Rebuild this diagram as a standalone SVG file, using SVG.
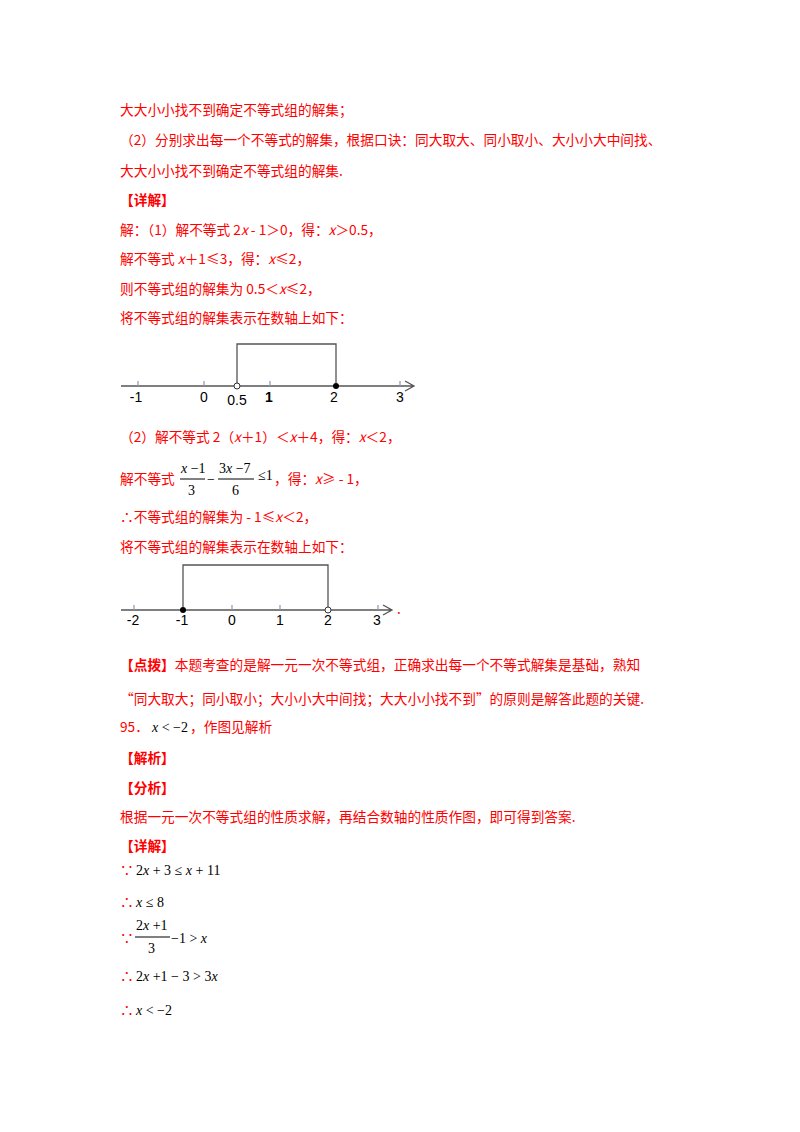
<svg xmlns="http://www.w3.org/2000/svg" width="800" height="1132" viewBox="0 0 800 1132">
<style>
.t{font-family:"Noto Sans CJK SC","Liberation Serif",sans-serif;font-size:13.7px;fill:#ff0000}
.m{font-family:"Liberation Serif",serif;font-size:14px;fill:#000}
.mi{font-family:"Liberation Serif",serif;font-size:14px;fill:#000;font-style:italic}
.l{font-family:"Liberation Sans",sans-serif;font-size:14px;fill:#000;text-anchor:middle}
.ax{stroke:#555;stroke-width:1.3;fill:none}
.tk{stroke:#8899bb;stroke-width:1.2}
</style>
<rect width="800" height="1132" fill="#fff"/>
<text class="t" x="120" y="115">大大小小找不到确定不等式组的解集；</text>
<text class="t" x="120" y="145">（2）分别求出每一个不等式的解集，根据口诀：同大取大、同小取小、大小小大中间找、</text>
<text class="t" x="120" y="176">大大小小找不到确定不等式组的解集.</text>
<text class="t" x="120" y="205" font-weight="bold">【详解】</text>
<text class="t" x="120" y="235">解：（1）解不等式 2<tspan font-style="italic">x</tspan> - 1＞0，得：<tspan font-style="italic">x</tspan>＞0.5，</text>
<text class="t" x="120" y="264">解不等式 <tspan font-style="italic">x</tspan>＋1≤3，得：<tspan font-style="italic">x</tspan>≤2，</text>
<text class="t" x="120" y="294">则不等式组的解集为 0.5＜<tspan font-style="italic">x</tspan>≤2，</text>
<text class="t" x="120" y="323">将不等式组的解集表示在数轴上如下：</text>
<g id="numberline1">
<path class="ax" d="M121 386H413M405 381L414 386L405 391"/>
<path class="tk" d="M138 381V386M204 381V386M270 381V386M400 381V386"/>
<path class="ax" d="M237 383V344H336V383"/>
<circle cx="237" cy="386" r="3" fill="#fff" stroke="#333"/>
<circle cx="336" cy="386" r="3" fill="#000"/>
<text class="l" x="136" y="402">-1</text><text class="l" x="204" y="402">0</text>
<text class="l" x="237" y="405" font-size="12">0.5</text><text class="l" x="269" y="402" font-weight="bold">1</text>
<text class="l" x="334" y="402">2</text><text class="l" x="400" y="402">3</text>
</g>
<text class="t" x="120" y="442">（2）解不等式 2（<tspan font-style="italic">x</tspan>＋1）＜<tspan font-style="italic">x</tspan>＋4，得：<tspan font-style="italic">x</tspan>＜2，</text>
<text class="t" x="120" y="484">解不等式</text>
<g id="frac1">
<text class="m" x="181" y="473"><tspan font-style="italic">x</tspan> −1</text>
<line x1="180" y1="479" x2="205" y2="479" stroke="#000"/>
<text class="m" x="188" y="495">3</text>
<text class="m" x="207" y="484">−</text>
<text class="m" x="219" y="473">3<tspan font-style="italic">x</tspan> −7</text>
<line x1="218" y1="479" x2="254" y2="479" stroke="#000"/>
<text class="m" x="232" y="495">6</text>
<text class="m" x="258" y="480" font-size="12">≤1</text>
</g>
<text class="t" x="274" y="484">，得：<tspan font-style="italic">x</tspan>≥ - 1，</text>
<text class="t" x="120" y="522">∴不等式组的解集为 - 1≤<tspan font-style="italic">x</tspan>＜2，</text>
<text class="t" x="120" y="552">将不等式组的解集表示在数轴上如下：</text>
<g id="numberline2">
<path class="ax" d="M121 610H391M383 605L392 610L383 615"/>
<path class="tk" d="M134 605V610M232 605V610M280 605V610M378 605V610"/>
<path class="ax" d="M183 607V565H328V607"/>
<circle cx="183" cy="610" r="3" fill="#000"/>
<circle cx="328" cy="610" r="3" fill="#fff" stroke="#333"/>
<text class="l" x="133" y="625">-2</text><text class="l" x="182" y="625">-1</text>
<text class="l" x="232" y="625">0</text><text class="l" x="280" y="625">1</text>
<text class="l" x="328" y="625">2</text><text class="l" x="377" y="625">3</text>
<text class="t" x="397" y="614">.</text>
</g>
<text class="t" x="120" y="670"><tspan font-weight="bold">【点拨】</tspan>本题考查的是解一元一次不等式组，正确求出每一个不等式解集是基础，熟知</text>
<text class="t" x="120" y="704">“同大取大；同小取小；大小小大中间找；大大小小找不到”的原则是解答此题的关键.</text>
<text class="t" x="120" y="732">95．</text>
<text class="mi" x="152" y="732">x <tspan font-style="normal">&lt; −2</tspan></text>
<text class="t" x="190" y="732">，作图见解析</text>
<text class="t" x="120" y="763" font-weight="bold">【解析】</text>
<text class="t" x="120" y="793" font-weight="bold">【分析】</text>
<text class="t" x="120" y="822">根据一元一次不等式组的性质求解，再结合数轴的性质作图，即可得到答案.</text>
<text class="t" x="120" y="851" font-weight="bold">【详解】</text>
<text class="t" x="120" y="875">∵</text><text class="m" x="136" y="875">2<tspan font-style="italic">x</tspan> + 3 ≤ <tspan font-style="italic">x</tspan> + 11</text>
<text class="t" x="120" y="907">∴</text><text class="m" x="136" y="907"><tspan font-style="italic">x</tspan> ≤ 8</text>
<text class="t" x="120" y="943">∵</text>
<text class="m" x="136" y="930">2<tspan font-style="italic">x</tspan> +1</text>
<line x1="135" y1="937" x2="170" y2="937" stroke="#000"/>
<text class="m" x="148" y="953">3</text>
<text class="m" x="171" y="943">−1 &gt; <tspan font-style="italic">x</tspan></text>
<text class="t" x="120" y="981">∴</text><text class="m" x="136" y="981">2<tspan font-style="italic">x</tspan> +1 − 3 &gt; 3<tspan font-style="italic">x</tspan></text>
<text class="t" x="120" y="1015">∴</text><text class="m" x="136" y="1015"><tspan font-style="italic">x</tspan> &lt; −2</text>
</svg>
